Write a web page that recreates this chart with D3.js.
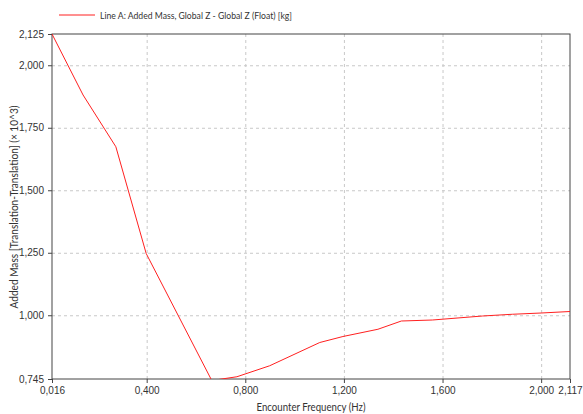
<!DOCTYPE html>
<html>
<head>
<meta charset="utf-8">
<script src="https://d3js.org/d3.v7.min.js"></script>
<style>
  body { margin: 0; background: #fff; }
  svg { font-family: Lato, "Noto Sans", sans-serif; }
  .grid line { stroke: #c8c8c8; stroke-dasharray: 3,3; }
  .grid path { display: none; }
  .axis text { fill: #333; font-size: 10px; }
  .axis line, .axis path { stroke: #444; }
</style>
</head>
<body>
<div id="chart"></div>
<script>
// encounter frequency (Hz)
var freq = [0.016, 0.142, 0.275, 0.398, 0.664, 0.766, 0.899, 1.102, 1.196, 1.338, 1.433, 1.559, 1.762, 1.884, 2.000, 2.117];
// added mass (x10^3 kg)
var mass = [2.125, 1.881, 1.674, 1.247, 0.739, 0.754, 0.798, 0.891, 0.915, 0.944, 0.977, 0.981, 0.997, 1.004, 1.009, 1.015];

var xTicks = [0.016, 0.4, 0.8, 1.2, 1.6, 2.0, 2.117];
var yTicks = [0.745, 1.0, 1.25, 1.5, 1.75, 2.0, 2.125];
var seriesName = "Line A: Added Mass, Global Z - Global Z (Float) [kg]";

var W = 583, H = 414;
var margin = {top: 34, right: 13, bottom: 35, left: 52};
var width = W - margin.left - margin.right;
var height = H - margin.top - margin.bottom;

var svg = d3.select("#chart").append("svg")
    .attr("width", W)
    .attr("height", H);

var g = svg.append("g")
    .attr("transform", "translate(" + margin.left + "," + margin.top + ")");

var x = d3.scaleLinear().domain([0.016, 2.117]).range([0, width]);
var y = d3.scaleLinear().domain([0.745, 2.125]).range([height, 0]);

var fmt = function(d) { return d3.format(".3f")(d).replace(".", ","); };

// grid
g.append("g").attr("class", "grid")
  .attr("transform", "translate(0," + height + ")")
  .call(d3.axisBottom(x).tickValues([0.4, 0.8, 1.2, 1.6, 2.0]).tickSize(-height).tickFormat(""));
g.append("g").attr("class", "grid")
  .call(d3.axisLeft(y).tickValues([1.0, 1.25, 1.5, 1.75, 2.0]).tickSize(-width).tickFormat(""));

// frame
g.append("rect")
  .attr("width", width).attr("height", height)
  .attr("fill", "none").attr("stroke", "#444");

g.append("g").attr("class", "axis")
  .attr("transform", "translate(0," + height + ")")
  .call(d3.axisBottom(x).tickValues(xTicks).tickSize(4).tickPadding(4).tickFormat(fmt));

g.append("g").attr("class", "axis")
  .call(d3.axisLeft(y).tickValues(yTicks).tickSize(4).tickPadding(4).tickFormat(fmt));

g.selectAll(".axis .domain").remove();

// line
g.append("clipPath").attr("id", "clip")
  .append("rect").attr("width", width).attr("height", height);

var data = freq.map(function(f, i) { return {x: f, y: mass[i]}; });

g.append("path")
  .datum(data)
  .attr("clip-path", "url(#clip)")
  .attr("fill", "none")
  .attr("stroke", "#ff2020")
  .attr("stroke-width", 1)
  .attr("d", d3.line().x(function(d) { return x(d.x); }).y(function(d) { return y(d.y); }));

// axis titles
svg.append("text")
  .attr("x", 311)
  .attr("y", 411)
  .attr("text-anchor", "middle")
  .attr("font-size", 10.5)
  .attr("fill", "#333")
  .attr("textLength", 109)
  .attr("lengthAdjust", "spacingAndGlyphs")
  .text("Encounter Frequency (Hz)");

svg.append("text")
  .attr("transform", "translate(18,207) rotate(-90)")
  .attr("text-anchor", "middle")
  .attr("font-size", 10.5)
  .attr("fill", "#333")
  .attr("textLength", 203)
  .attr("lengthAdjust", "spacingAndGlyphs")
  .text("Added Mass [Translation-Translation] (\u00d7 10^3)");

// legend
svg.append("line")
  .attr("x1", 59).attr("x2", 95).attr("y1", 15).attr("y2", 15)
  .attr("stroke", "#ff2020");
svg.append("text")
  .attr("x", 100).attr("y", 15).attr("dy", "0.35em")
  .attr("font-size", 10)
  .attr("fill", "#333")
  .attr("textLength", 192)
  .attr("lengthAdjust", "spacingAndGlyphs")
  .text(seriesName);
</script>
</body>
</html>
